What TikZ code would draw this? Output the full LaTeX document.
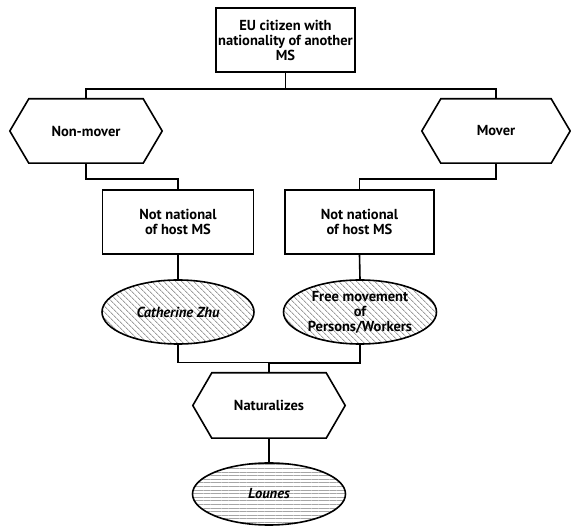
\documentclass[tikz,border=0pt]{standalone}
\usepackage{fontspec}
\setmainfont{PT Sans}
\usetikzlibrary{patterns.meta,shapes.geometric}
\tikzset{
  lbl/.style={font=\bfseries\fontsize{14.5}{15}\selectfont, align=center},
  conn/.style={line width=1.6pt, draw=black},
  boxnode/.style={lbl, draw=black, line width=1.6pt, fill=white, minimum width=151pt, minimum height=64pt, inner sep=0pt},
  hexnode/.style={lbl, minimum width=152pt, minimum height=64pt, inner sep=0pt},
  ovaldiag/.style={lbl, ellipse, draw=black, line width=1.6pt, minimum width=152pt, minimum height=64pt, inner sep=0pt,
    preaction={fill=white}, pattern={Lines[angle=-45, distance=4pt, line width=1pt]}, pattern color=black!38},
  ovalhoriz/.style={lbl, ellipse, draw=black, line width=1.6pt, minimum width=153pt, minimum height=62pt, inner sep=0pt,
    preaction={fill=white}, pattern={Lines[angle=0, distance=3.6pt, line width=0.9pt]}, pattern color=black!35},
}
\newcommand{\hexdraw}[2]{%
  \draw[line width=1.6pt] (#1.west) -- ([xshift=#2]#1.north west) -- ([xshift=-#2]#1.north east) -- (#1.east) -- ([xshift=-#2]#1.south east) -- ([xshift=#2]#1.south west) -- cycle;}
\begin{document}
\begin{tikzpicture}[x=1pt,y=-1pt]
\useasboundingbox (0,0) rectangle (571,526);
\node[boxnode, minimum width=139pt] (top) at (285.5,40) {EU citizen with\\nationality of another\\MS};
\node[hexnode] (nm) at (86,131) {Non-mover};
\hexdraw{nm}{19}
\node[hexnode, minimum width=148pt] (mv) at (496,131) {Mover};
\hexdraw{mv}{19}
\node[boxnode] (lb) at (178,222) {Not national\\of host MS};
\node[boxnode, minimum width=149pt] (rb) at (359.5,222) {Not national\\of host MS};
\node[ovaldiag] (le) at (178,312) {\itshape Catherine Zhu};
\node[ovaldiag, minimum width=153pt] (re) at (360,312) {Free movement\\of\\Persons/Workers};
\node[hexnode, minimum height=65pt] (nat) at (269,405.5) {Naturalizes};
\hexdraw{nat}{19}
\node[ovalhoriz] (lo) at (269,494) {\itshape Lounes};
\draw[conn] (top.south) -- ++(0,16) -| (nm.north);
\draw[conn] (top.south) -- ++(0,16) -| (mv.north);
\draw[conn] (nm.south) -- ++(0,16) -| (lb.north);
\draw[conn] (mv.south) -- ++(0,16) -| (rb.north);
\draw[conn] (lb.south) -- (le.north);
\draw[conn] (rb.south) -- (re.north);
\draw[conn] (le.south) -- ++(0,18) -| (nat.north);
\draw[conn] (re.south) -- ++(0,18) -| (nat.north);
\draw[conn] (nat.south) -- (lo.north);
\end{tikzpicture}
\end{document}
